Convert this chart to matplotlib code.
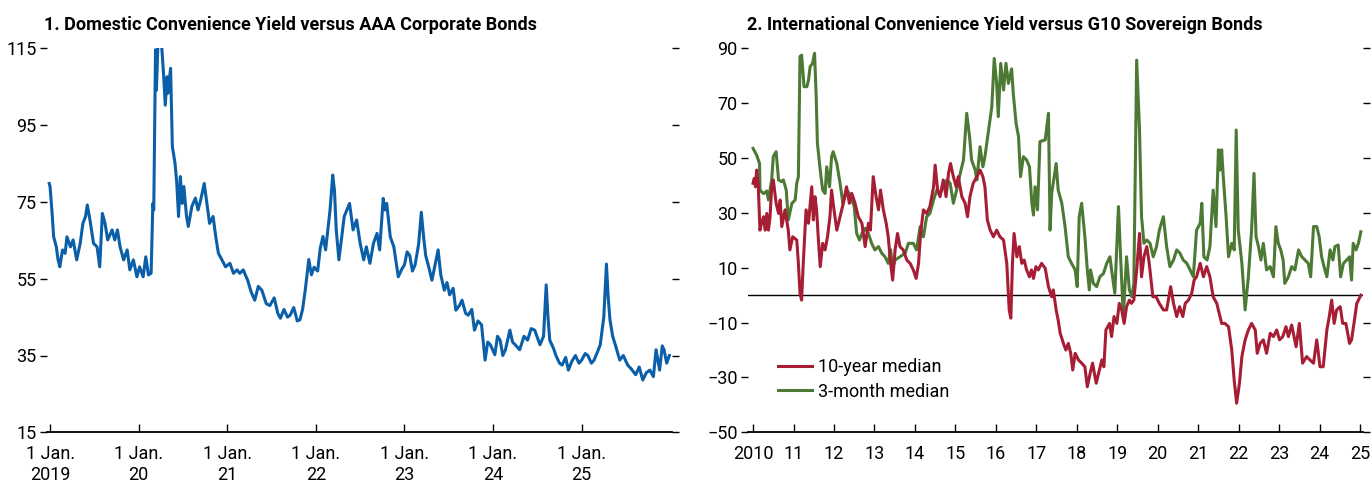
import matplotlib
matplotlib.use("Agg")
import matplotlib.pyplot as plt

plt.rcParams['font.family'] = ['Roboto', 'DejaVu Sans']
plt.rcParams['axes.unicode_minus'] = True

# ---- Panel 1: domestic convenience yield (basis points), decimal years ----
dom_t = [2018.99, 2019.00, 2019.02, 2019.04, 2019.07, 2019.09, 2019.11, 2019.14, 2019.17, 2019.19,
         2019.23, 2019.26, 2019.30, 2019.34, 2019.37, 2019.40, 2019.42, 2019.45, 2019.49, 2019.53,
         2019.56, 2019.59, 2019.62, 2019.65, 2019.70, 2019.73, 2019.76, 2019.79, 2019.83, 2019.87,
         2019.90, 2019.94, 2019.98, 2020.01, 2020.05, 2020.08, 2020.11, 2020.14, 2020.16, 2020.17,
         2020.19, 2020.20, 2020.23, 2020.26, 2020.28, 2020.30, 2020.32, 2020.33, 2020.36, 2020.38,
         2020.41, 2020.43, 2020.45, 2020.47, 2020.49, 2020.51, 2020.54, 2020.56, 2020.60, 2020.64,
         2020.67, 2020.70, 2020.74, 2020.77, 2020.80, 2020.84, 2020.87, 2020.90, 2020.94, 2020.98,
         2021.03, 2021.07, 2021.11, 2021.14, 2021.18, 2021.23, 2021.27, 2021.31, 2021.35, 2021.39,
         2021.44, 2021.48, 2021.53, 2021.57, 2021.60, 2021.64, 2021.68, 2021.71, 2021.75, 2021.79,
         2021.82, 2021.85, 2021.88, 2021.92, 2021.95, 2021.98, 2022.02, 2022.05, 2022.08,
         2022.11, 2022.16, 2022.19, 2022.21, 2022.23, 2022.26, 2022.32, 2022.38, 2022.42, 2022.46,
         2022.50, 2022.54, 2022.57, 2022.61, 2022.65, 2022.69, 2022.72, 2022.76, 2022.78, 2022.80,
         2022.84, 2022.88, 2022.93, 2022.97, 2023.00, 2023.03, 2023.06, 2023.09, 2023.12, 2023.16,
         2023.19, 2023.22, 2023.24, 2023.28, 2023.31, 2023.34, 2023.38, 2023.41, 2023.45, 2023.48,
         2023.51, 2023.55, 2023.58, 2023.62, 2023.65, 2023.69, 2023.72, 2023.76, 2023.79, 2023.83,
         2023.87, 2023.91, 2023.94, 2023.97, 2024.02, 2024.05, 2024.08, 2024.11, 2024.14, 2024.19,
         2024.22, 2024.25, 2024.30, 2024.35, 2024.39, 2024.43, 2024.47, 2024.53, 2024.57, 2024.60,
         2024.62, 2024.64, 2024.68, 2024.71, 2024.75, 2024.78, 2024.82, 2024.85, 2024.89, 2024.93,
         2024.97, 2025.00, 2025.04, 2025.07, 2025.11, 2025.14, 2025.18, 2025.21, 2025.25, 2025.28,
         2025.30, 2025.32, 2025.35, 2025.38, 2025.43, 2025.47, 2025.52, 2025.56, 2025.61, 2025.65,
         2025.69, 2025.73, 2025.77, 2025.81, 2025.84, 2025.88, 2025.91, 2025.93, 2025.96, 2025.99]
dom_v = [79.8, 78.9, 72.9, 65.9, 63.3, 59.9, 58.1, 62.5, 61.6, 65.9,
         63.3, 65.1, 59.9, 64.2, 69.4, 71.2, 74.2, 70.3, 64.2, 63.3,
         58.1, 72.0, 69.4, 65.1, 67.7, 65.1, 67.7, 63.3, 59.9, 62.5,
         57.3, 59.9, 55.5, 58.1, 55.5, 60.7, 56.0, 56.4, 74.6, 72.9,
         114.6, 104.1, 125.0, 115.4, 108.5, 100.2, 107.6, 103.3, 109.8, 89.4,
         85.1, 79.8, 71.2, 81.6, 74.6, 79.0, 71.2, 68.6, 73.8, 76.0,
         72.9, 75.5, 79.8, 74.6, 69.4, 71.2, 65.9, 61.6, 59.9, 58.1,
         59.0, 56.4, 57.3, 56.4, 57.3, 54.6, 51.5, 49.4, 53.0, 52.0,
         48.5, 48.0, 50.0, 46.0, 44.7, 47.0, 45.0, 45.5, 47.5, 44.0,
         44.3, 47.0, 52.0, 60.0, 56.0, 58.0, 57.0, 63.0, 66.0,
         62.5, 72.9, 82.0, 78.0, 67.7, 59.9, 71.2, 74.6, 67.7, 70.3,
         64.2, 59.9, 63.3, 59.0, 64.2, 66.8, 62.5, 75.9, 72.9, 74.6,
         65.9, 63.3, 55.5, 57.5, 58.6, 62.0, 61.0, 57.0, 58.6, 64.0,
         72.3, 65.0, 61.0, 57.5, 54.6, 58.0, 62.5, 56.0, 52.0, 54.0,
         50.8, 52.5, 46.8, 48.0, 49.4, 46.0, 45.5, 47.0, 41.6, 44.0,
         43.0, 33.8, 38.5, 37.8, 35.2, 40.0, 39.0, 35.0, 36.5, 41.6,
         38.5, 37.8, 36.5, 40.0, 39.0, 42.0, 41.6, 37.8, 40.0, 53.4,
         45.0, 39.0, 37.0, 35.0, 33.0, 32.5, 34.5, 31.2, 33.5, 35.0,
         33.0, 33.8, 35.5, 35.0, 33.0, 33.8, 36.0, 37.8, 45.0, 58.8,
         50.0, 44.3, 40.0, 37.8, 33.8, 35.0, 32.5, 31.5, 30.0, 32.0,
         28.6, 30.5, 31.2, 29.5, 36.5, 31.2, 37.5, 36.5, 33.0, 35.0]

dom_yticks = [15, 35, 55, 75, 95, 115]
dom_years = [2019, 2020, 2021, 2022, 2023, 2024, 2025]
dom_xlabels = ["1 Jan.\n2019", "1 Jan.\n20", "1 Jan.\n21", "1 Jan.\n22",
               "1 Jan.\n23", "1 Jan.\n24", "1 Jan.\n25"]

# ---- Panel 2: international convenience yield (basis points) ----
med10_t = [2010.00, 2010.03, 2010.06, 2010.09, 2010.13, 2010.17, 2010.21, 2010.26, 2010.30, 2010.34,
           2010.38, 2010.42, 2010.46, 2010.50, 2010.57, 2010.63, 2010.67, 2010.71, 2010.79, 2010.87,
           2010.91, 2010.98, 2011.08, 2011.12, 2011.16, 2011.20, 2011.24, 2011.31, 2011.37, 2011.45,
           2011.49, 2011.53, 2011.57, 2011.61, 2011.66, 2011.72, 2011.78, 2011.84, 2011.90, 2011.94,
           2012.00, 2012.07, 2012.15, 2012.23, 2012.31, 2012.38, 2012.44, 2012.52, 2012.60, 2012.69,
           2012.77, 2012.85, 2012.90, 2012.97, 2013.04, 2013.10, 2013.15, 2013.22, 2013.29, 2013.34,
           2013.40, 2013.45, 2013.51, 2013.57, 2013.63, 2013.71, 2013.80, 2013.88, 2013.96, 2014.03,
           2014.09, 2014.14, 2014.21, 2014.29, 2014.37, 2014.46, 2014.50, 2014.56, 2014.62, 2014.70,
           2014.77, 2014.83, 2014.88, 2014.95, 2015.02, 2015.07, 2015.16, 2015.24, 2015.30, 2015.36,
           2015.44, 2015.53, 2015.61, 2015.68, 2015.73, 2015.79, 2015.86, 2015.94, 2016.02, 2016.10,
           2016.19, 2016.27, 2016.33, 2016.37, 2016.41, 2016.45, 2016.52, 2016.58, 2016.64, 2016.70,
           2016.76, 2016.83, 2016.88, 2016.93, 2016.99, 2017.05, 2017.13, 2017.22, 2017.30, 2017.38,
           2017.42, 2017.49, 2017.54, 2017.59, 2017.67, 2017.73, 2017.79, 2017.85, 2017.90, 2017.96,
           2018.04, 2018.12, 2018.20, 2018.26, 2018.33, 2018.39, 2018.48, 2018.56, 2018.62, 2018.67,
           2018.72, 2018.81, 2018.86, 2018.92, 2018.99, 2019.05, 2019.11, 2019.17, 2019.23, 2019.30,
           2019.35, 2019.41, 2019.48, 2019.55, 2019.60, 2019.66, 2019.73, 2019.79, 2019.88, 2019.96,
           2020.04, 2020.14, 2020.22, 2020.32, 2020.39, 2020.47, 2020.54, 2020.62, 2020.68, 2020.76,
           2020.84, 2020.90, 2020.96, 2021.05, 2021.13, 2021.21, 2021.29, 2021.37, 2021.46, 2021.52,
           2021.58, 2021.66, 2021.75, 2021.83, 2021.89, 2021.95, 2022.02, 2022.08, 2022.16, 2022.24,
           2022.32, 2022.41, 2022.46, 2022.53, 2022.61, 2022.69, 2022.78, 2022.86, 2022.94, 2023.01,
           2023.09, 2023.17, 2023.23, 2023.31, 2023.42, 2023.50, 2023.58, 2023.68, 2023.76, 2023.85,
           2023.93, 2024.01, 2024.09, 2024.18, 2024.24, 2024.30, 2024.36, 2024.42, 2024.51, 2024.57,
           2024.65, 2024.74, 2024.79, 2024.85, 2024.92, 2025.02]
med10_v = [40.8, 42.6, 39.5, 45.6, 39.5, 23.7, 26.2, 28.6, 23.7, 29.8,
           23.7, 28.6, 39.5, 42.0, 33.5, 29.8, 34.7, 25.0, 31.1, 23.7,
           16.5, 21.3, 20.1, 11.6, 0.7, -1.8, 11.6, 31.1, 26.2, 39.5,
           27.4, 35.9, 31.1, 21.3, 10.4, 18.9, 16.5, 21.3, 28.6, 38.3,
           31.1, 23.7, 28.6, 33.5, 39.5, 33.5, 37.1, 33.5, 28.6, 26.2,
           17.7, 26.2, 23.7, 43.2, 35.9, 31.1, 38.3, 31.1, 26.2, 21.3,
           11.6, 5.5, 16.5, 22.5, 17.7, 16.5, 12.8, 11.6, 9.2, 6.1,
           11.6, 22.5, 31.1, 29.8, 32.3, 39.5, 47.4, 38.3, 35.9, 42.0,
           35.9, 44.4, 48.0, 43.2, 39.5, 43.2, 35.9, 33.5, 28.6, 35.9,
           40.8, 43.2, 45.6, 43.2, 39.5, 27.4, 23.7, 21.3, 23.7, 21.3,
           20.1, 11.6, -5.4, -8.4, 11.6, 22.5, 14.0, 17.7, 11.6, 12.8,
           9.2, 6.7, 9.2, 6.1, 10.4, 9.2, 11.6, 9.8, 3.1, -0.6,
           1.9, -5.4, -9.1, -13.9, -17.6, -20.0, -17.6, -21.2, -27.3, -21.2,
           -23.6, -24.8, -26.1, -33.4, -28.5, -24.8, -32.1, -27.3, -23.6, -26.1,
           -12.7, -10.3, -15.1, -7.8, -10.3, -3.0, -5.4, -10.3, -4.2, -1.8,
           -3.0, -1.8, 9.2, 22.5, 6.7, 14.0, 17.7, 11.6, -0.6, -0.6,
           -3.0, -5.4, -5.4, 3.1, -3.0, -7.8, -4.2, -7.8, -3.0, -1.8,
           0.7, 5.5, 6.7, 11.6, 6.7, 10.4, 6.7, -0.6, -3.0, -6.6,
           -10.3, -10.3, -11.5, -20.0, -31.0, -39.4, -32.1, -22.4, -16.3, -12.7,
           -10.3, -12.7, -21.2, -17.6, -16.3, -21.2, -13.9, -15.1, -12.7, -16.3,
           -15.1, -11.5, -15.1, -10.9, -18.8, -10.3, -24.8, -22.4, -23.6, -24.8,
           -16.3, -26.1, -26.1, -12.7, -7.8, -1.8, -10.3, -5.4, -4.2, -10.3,
           -10.3, -17.6, -16.3, -10.3, -3.0, 0.0]

med3m_t = [2010.00, 2010.09, 2010.16, 2010.17, 2010.26, 2010.34, 2010.38, 2010.46, 2010.50, 2010.57,
           2010.63, 2010.71, 2010.75, 2010.82, 2010.87, 2010.96, 2011.04, 2011.08, 2011.12, 2011.16,
           2011.20, 2011.26, 2011.33, 2011.37, 2011.41, 2011.47, 2011.52, 2011.56, 2011.59, 2011.66,
           2011.72, 2011.78, 2011.82, 2011.89, 2011.94, 2011.98, 2012.07, 2012.15, 2012.22, 2012.27,
           2012.31, 2012.38, 2012.44, 2012.50, 2012.56, 2012.63, 2012.69, 2012.77, 2012.85, 2012.93,
           2013.01, 2013.10, 2013.18, 2013.26, 2013.34, 2013.40, 2013.45, 2013.51, 2013.63, 2013.76,
           2013.84, 2013.96, 2014.04, 2014.13, 2014.21, 2014.29, 2014.37, 2014.46, 2014.54, 2014.62,
           2014.70, 2014.79, 2014.87, 2014.95, 2015.03, 2015.12, 2015.20, 2015.28, 2015.35, 2015.40,
           2015.49, 2015.53, 2015.61, 2015.68, 2015.73, 2015.82, 2015.90, 2015.96, 2016.02, 2016.06,
           2016.12, 2016.19, 2016.25, 2016.31, 2016.39, 2016.43, 2016.50, 2016.56, 2016.61, 2016.68,
           2016.76, 2016.83, 2016.89, 2016.93, 2016.97, 2017.03, 2017.09, 2017.22, 2017.30, 2017.34,
           2017.38, 2017.49, 2017.54, 2017.63, 2017.71, 2017.79, 2017.87, 2017.96, 2018.01, 2018.06,
           2018.12, 2018.20, 2018.26, 2018.31, 2018.34, 2018.41, 2018.49, 2018.57, 2018.66, 2018.74,
           2018.82, 2018.86, 2018.94, 2019.03, 2019.09, 2019.15, 2019.23, 2019.30, 2019.36, 2019.41,
           2019.48, 2019.55, 2019.60, 2019.66, 2019.73, 2019.81, 2019.89, 2019.97, 2020.04, 2020.14,
           2020.22, 2020.30, 2020.39, 2020.47, 2020.55, 2020.63, 2020.72, 2020.80, 2020.88, 2020.96,
           2021.05, 2021.09, 2021.14, 2021.22, 2021.29, 2021.37, 2021.44, 2021.50, 2021.54, 2021.58,
           2021.62, 2021.69, 2021.75, 2021.83, 2021.89, 2021.94, 2021.99, 2022.08, 2022.16, 2022.24,
           2022.32, 2022.38, 2022.43, 2022.49, 2022.55, 2022.61, 2022.69, 2022.78, 2022.86, 2022.92,
           2022.98, 2023.04, 2023.10, 2023.14, 2023.23, 2023.31, 2023.39, 2023.48, 2023.56, 2023.64,
           2023.72, 2023.78, 2023.85, 2023.93, 2023.99, 2024.05, 2024.11, 2024.18, 2024.26, 2024.33,
           2024.38, 2024.46, 2024.52, 2024.59, 2024.67, 2024.74, 2024.79, 2024.83, 2024.90, 2024.96,
           2025.02]
med3m_v = [53.5, 51.0, 48.0, 38.3, 37.0, 38.0, 34.7, 42.0, 50.5, 52.3,
           42.0, 41.4, 42.0, 38.3, 27.4, 33.5, 34.7, 40.8, 43.2, 87.0,
           87.5, 76.0, 76.0, 78.4, 83.3, 84.5, 88.2, 72.4, 55.4, 45.6,
           38.3, 37.1, 46.8, 39.5, 50.5, 52.3, 48.0, 40.8, 33.5, 35.9,
           38.3, 37.1, 34.7, 32.3, 22.5, 20.1, 22.5, 24.4, 22.5, 18.9,
           16.5, 17.7, 15.3, 14.0, 11.6, 16.5, 9.8, 12.8, 14.0, 15.3,
           18.9, 18.9, 16.5, 25.0, 21.3, 28.6, 29.8, 34.7, 38.3, 37.1,
           39.5, 42.0, 40.8, 33.5, 38.3, 44.4, 49.3, 66.3, 57.8, 49.3,
           45.6, 42.0, 54.1, 46.8, 50.5, 60.2, 68.7, 86.3, 77.2, 65.1,
           84.5, 74.8, 84.5, 77.2, 82.5, 73.6, 62.6, 57.8, 43.2, 50.5,
           49.3, 46.8, 33.5, 29.2, 39.5, 31.1, 56.0, 56.6, 66.3, 23.7,
           37.1, 48.0, 38.3, 33.5, 25.0, 14.0, 11.6, 9.2, 3.1, 28.6,
           33.5, 21.3, 9.2, 1.9, 9.2, 4.3, 3.1, 6.7, 7.9, 11.6,
           14.0, 9.2, 0.7, 32.3, 11.6, -7.8, 14.0, 1.9, -0.6, 4.3,
           85.7, 60.2, 28.6, 18.9, 20.1, 18.9, 14.0, 17.7, 23.7, 28.6,
           17.7, 10.4, 12.8, 16.5, 15.3, 12.8, 11.6, 9.2, 6.7, 23.7,
           26.2, 33.5, 14.0, 12.8, 17.7, 38.3, 25.0, 53.0, 45.6, 53.0,
           43.2, 28.6, 14.0, 18.9, 16.5, 60.2, 23.7, 11.6, -5.4, 6.7,
           23.7, 44.4, 21.3, 17.7, 12.8, 18.9, 9.2, 10.4, 6.7, 25.0,
           18.9, 16.5, 12.8, 4.3, 6.7, 10.4, 9.2, 16.5, 14.0, 12.8,
           11.6, 6.7, 25.0, 25.0, 21.3, 14.0, 10.4, 6.7, 16.5, 12.8,
           17.7, 18.3, 6.7, 11.6, 12.8, 14.0, 5.5, 18.9, 16.5, 18.9,
           23.1]

intl_yticks = [-50, -30, -10, 10, 30, 50, 70, 90]
intl_years = list(range(2010, 2026))
intl_xlabels = ["2010"] + [f"{y % 100:02d}" for y in range(2011, 2026)]

BLUE = "#0a5fa8"
RED = "#a61d34"
GREEN = "#4c7a35"

W, H = 1372, 483
fig = plt.figure(figsize=(W / 100, H / 100), dpi=100)

bottom = (H - 432.3) / H
height = 384.0 / H
ax1 = fig.add_axes([47 / W, bottom, (672 - 47) / W, height])
ax2 = fig.add_axes([748 / W, bottom, (1363 - 748) / W, height])


def style_axis(ax, yticks):
    for s in ("left", "right", "top"):
        ax.spines[s].set_visible(False)
    ax.spines["bottom"].set_linewidth(1.3)
    ax.spines["bottom"].set_color("black")
    ax.set_yticks(yticks)
    ax.tick_params(axis="y", which="both", direction="out", length=5, width=1.0,
                   left=True, right=True, labelleft=True, labelright=False,
                   labelsize=13, pad=2.5)
    ax.tick_params(axis="x", direction="in", length=5.5, width=1.0, labelsize=13, pad=9)
    ax.set_facecolor("none")


# Panel 1
ax1.plot(dom_t, dom_v, color=BLUE, lw=2.2, solid_joinstyle="round")
ax1.set_xlim(2018.965, 2026.02)
ax1.set_ylim(15, 115)
style_axis(ax1, dom_yticks)
ax1.set_xticks(dom_years)
ax1.set_xticklabels(dom_xlabels, linespacing=1.25)

# Panel 2
ax2.axhline(0, color="black", lw=1.0, zorder=1)
ax2.plot(med10_t, med10_v, color=RED, lw=2.2, label="10-year median", zorder=3)
ax2.plot(med3m_t, med3m_v, color=GREEN, lw=2.2, label="3-month median", zorder=2)
ax2.set_xlim(2009.875, 2025.073)
ax2.set_ylim(-50, 90)
style_axis(ax2, intl_yticks)
ax2.set_xticks(intl_years)
ax2.set_xticklabels(intl_xlabels)

handles, labels = ax2.get_legend_handles_labels()
ax2.legend(handles, labels, loc="lower left", bbox_to_anchor=(0.048, 0.082),
           frameon=False, fontsize=13, handlelength=1.9, handletextpad=0.35,
           labelspacing=0.35, borderaxespad=0, borderpad=0)

fig.text(44 / W, 1 - 30 / H, "1. Domestic Convenience Yield versus AAA Corporate Bonds",
         fontsize=13, fontweight="bold", va="baseline", ha="left")
fig.text(747 / W, 1 - 30 / H, "2. International Convenience Yield versus G10 Sovereign Bonds",
         fontsize=13, fontweight="bold", va="baseline", ha="left")

fig.savefig("out.png", dpi=100)
